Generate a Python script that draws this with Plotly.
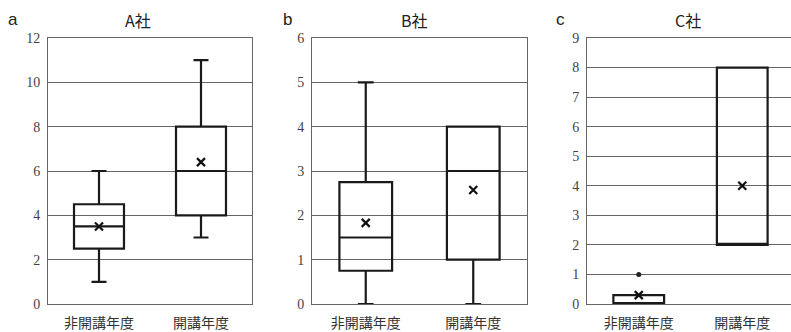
import plotly.graph_objects as go

W, H = 791, 332

categories = ["非開講年度", "開講年度"]
panel_letters = ["a", "b", "c"]
panel_titles = ["A社", "B社", "C社"]

# box statistics per company: [非開講年度, 開講年度]
A_min = [1, 3]; A_q1 = [2.5, 4]; A_med = [3.5, 6]; A_q3 = [4.5, 8]; A_max = [6, 11]; A_mean = [3.5, 6.4]
B_min = [0, 0]; B_q1 = [0.75, 1]; B_med = [1.5, 3]; B_q3 = [2.75, 4]; B_max = [5, 4]; B_mean = [1.83, 2.57]
C_min = [0, 2]; C_q1 = [0, 2]; C_med = [0, 2]; C_q3 = [0.3, 8]; C_max = [0.3, 8]; C_mean = [0.3, 4.0]
C_outlier_x = ["非開講年度"]; C_outlier_y = [1]

y_max = [12, 6, 9]
y_ticks = [[0, 2, 4, 6, 8, 10, 12], [0, 1, 2, 3, 4, 5, 6], list(range(10))]

stats = [
    (A_min, A_q1, A_med, A_q3, A_max, A_mean),
    (B_min, B_q1, B_med, B_q3, B_max, B_mean),
    (C_min, C_q1, C_med, C_q3, C_max, C_mean),
]

# pixel layout
x_px = [(48, 252), (312, 527), (587, 791)]
cat_px = [102, 107.5, 103.5]  # pixel spacing between categories
y_top, y_bot = 38, 304

fig = go.Figure()

for i, (mn, q1, md, q3, mx, mean) in enumerate(stats):
    xa = "x" if i == 0 else f"x{i+1}"
    ya = "y" if i == 0 else f"y{i+1}"
    fig.add_trace(go.Box(
        x=categories, q1=q1, median=md, q3=q3, lowerfence=mn, upperfence=mx,
        xaxis=xa, yaxis=ya, width=0.49, whiskerwidth=0.3,
        line=dict(color="#1a1a1a", width=2.2), fillcolor="rgba(0,0,0,0)",
        boxpoints=False, showlegend=False, hoverinfo="skip",
    ))
    fig.add_trace(go.Scatter(
        x=categories, y=mean, xaxis=xa, yaxis=ya, mode="markers",
        marker=dict(symbol="x-thin", size=8, line=dict(width=2.2, color="#111")),
        showlegend=False, hoverinfo="skip",
    ))
fig.add_trace(go.Scatter(
    x=C_outlier_x, y=C_outlier_y, xaxis="x3", yaxis="y3", mode="markers",
    marker=dict(symbol="circle", size=5, color="#222"),
    showlegend=False, hoverinfo="skip",
))

ydom = [1 - y_bot / H, 1 - y_top / H]
layout = dict(
    width=W, height=H, margin=dict(l=0, r=0, t=0, b=0, autoexpand=False),
    paper_bgcolor="white", plot_bgcolor="white",
    showlegend=False,
)
for i in range(3):
    xs = "xaxis" if i == 0 else f"xaxis{i+1}"
    ys = "yaxis" if i == 0 else f"yaxis{i+1}"
    ya = "y" if i == 0 else f"y{i+1}"
    xa = "x" if i == 0 else f"x{i+1}"
    x0, x1 = x_px[i]
    span = (x1 - x0) / cat_px[i]
    layout[xs] = dict(
        domain=[x0 / W, x1 / W], anchor=ya, type="category",
        range=[-0.5, -0.5 + span], automargin=False,
        showline=True, linecolor="#666", linewidth=1, mirror=True,
        showgrid=False, ticks="", ticklabelstandoff=6,
        tickfont=dict(family="Noto Sans CJK JP", size=14, color="#333"),
        fixedrange=True,
    )
    layout[ys] = dict(
        domain=ydom, anchor=xa, range=[0, y_max[i]], automargin=False,
        tickvals=y_ticks[i], ticktext=[str(v) for v in y_ticks[i]],
        showline=True, linecolor="#666", linewidth=1, mirror=(i < 2),
        showgrid=True, gridcolor="#666", gridwidth=1, zeroline=False,
        ticks="", ticklabelstandoff=4,
        tickfont=dict(family="Liberation Serif", size=14, color="#444"),
        fixedrange=True,
    )

annotations = []
letter_x = [13, 287, 560]
title_x = [138, 414, 688]
for i in range(3):
    annotations.append(dict(
        x=letter_x[i] / W, y=1 - 20 / H, xref="paper", yref="paper",
        text=panel_letters[i], showarrow=False, xanchor="center", yanchor="middle",
        font=dict(family="Liberation Sans", size=17, color="#222"),
    ))
    annotations.append(dict(
        x=title_x[i] / W, y=1 - 20 / H, xref="paper", yref="paper",
        text=panel_titles[i], showarrow=False, xanchor="center", yanchor="middle",
        font=dict(family="Noto Sans CJK JP", size=16, color="#222"),
    ))
layout["annotations"] = annotations

fig.update_layout(**layout)
fig.write_html(
    "out.html",
    config={"displayModeBar": False, "staticPlot": True},
    post_script="document.body.style.margin='0';document.body.style.overflow='hidden';",
)
